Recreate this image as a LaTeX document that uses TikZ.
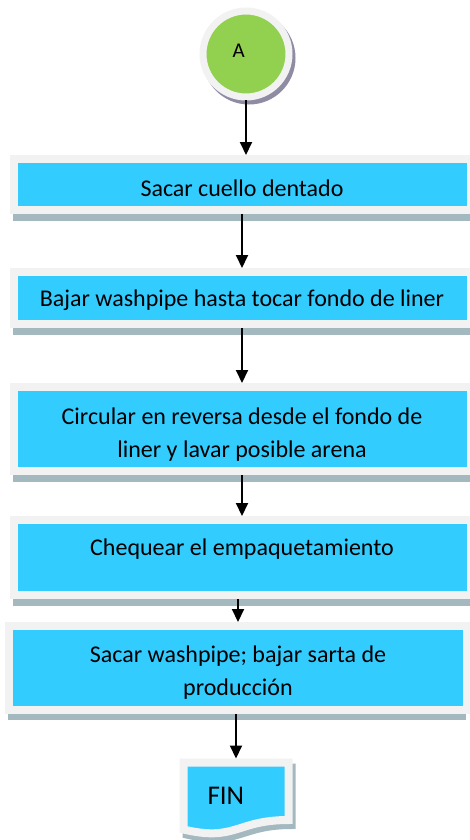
\documentclass[tikz,border=0pt]{standalone}
\usepackage{fontspec}
\setmainfont{Carlito}
\usetikzlibrary{arrows.meta,positioning,shadows,backgrounds}
\definecolor{stepcyan}{HTML}{33CCFF}
\definecolor{startgreen}{HTML}{92D050}
\definecolor{framegray}{HTML}{F2F2F2}
\definecolor{stripeblue}{HTML}{A3B8BF}
\definecolor{ringshadow}{HTML}{8E8BA3}

\begin{document}
\begin{tikzpicture}[>={Triangle[width=12pt,length=13pt]},
every edge/.style={draw,line width=2pt},
process/.style={rectangle,fill=stepcyan,draw=framegray,line width=8pt,
    minimum width=457pt,align=center,font=\fontsize{24}{33}\selectfont,
    drop shadow={shadow xshift=-1pt,shadow yshift=-10.5pt,opacity=1,fill=stripeblue}},
start/.style={circle,fill=startgreen,draw=framegray,line width=7pt,
    minimum size=86pt,text width=27pt,align=left,text depth=6pt,font=\fontsize{21}{25}\selectfont,
    drop shadow={shadow xshift=3pt,shadow yshift=-4pt,opacity=1,
    fill=ringshadow,draw=ringshadow,line width=7pt}},
terminal/.style={rectangle,minimum width=105pt,minimum height=67pt,inner sep=0pt,
    outer sep=0pt,text width=57pt,align=left,font=\fontsize{27}{32}\selectfont},
docframe/.style={fill=stepcyan,draw=framegray,line width=8pt,
    drop shadow={shadow xshift=3pt,shadow yshift=-5pt,opacity=1,
    fill=stripeblue,draw=stripeblue,line width=8pt}}
    ]
\useasboundingbox (0,0) rectangle (469pt,-840pt);

\node[start] (A) at (246pt,-54pt) {A};
\node[process,minimum height=51pt,text height=28.4pt,text depth=5pt] (S1) [below=54.5pt of A,xshift=-4pt] {Sacar cuello dentado};
\node[process,minimum height=52pt,text height=22.6pt,text depth=5pt] (S2) [below=54pt of S1] {Bajar washpipe hasta tocar fondo de liner};
\node[process,minimum height=84pt,text height=61pt,text depth=5pt] (S3) [below=55pt of S2] {Circular en reversa desde el fondo de\\liner y lavar posible arena};
\node[process,minimum height=75pt,text height=16.4pt,text depth=20pt] (S4) [below=41pt of S3] {Chequear el empaquetamiento};
\node[process,minimum width=458pt,minimum height=83.5pt,text height=61pt,text depth=5pt] (S5) [below=23pt of S4,xshift=-4pt] {Sacar washpipe; bajar sarta de\\producción};
\node[terminal] (Fin) [below=49pt of S5,xshift=-2pt] {FIN};

\begin{scope}[on background layer]
\draw[docframe] (Fin.north west) -- (Fin.north east) -- ([yshift=9.5pt]Fin.south east)
    .. controls +(-52.5pt,0pt) and +(52.5pt,-12.4pt) .. (Fin.south west) -- cycle;
\end{scope}

\path[->]
     (A.south) edge (A.south |- S1.north)
     (S1) edge (S2)
     (S2) edge (S3)
     (S3) edge (S4)
     (S4.south -| S5.north) edge (S5.north)
     (S5.south -| Fin.north) edge[shorten >=4pt] (Fin.north);
\end{tikzpicture}
\end{document}
